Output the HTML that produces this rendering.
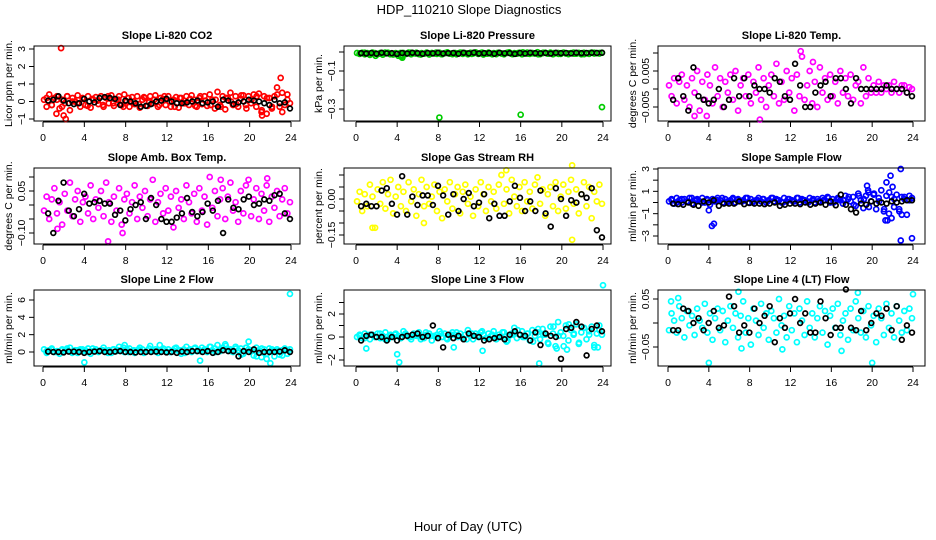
<!DOCTYPE html>
<html><head><meta charset="utf-8"><style>
html,body{margin:0;padding:0;background:#fff;}
svg{display:block;font-family:"Liberation Sans",sans-serif;}
</style></head><body>
<svg id="chart" width="936" height="540" viewBox="0 0 936 540" xmlns="http://www.w3.org/2000/svg">
<text x="469" y="14" font-size="13" text-anchor="middle">HDP_110210  Slope Diagnostics</text>
<text x="468" y="531" font-size="13" text-anchor="middle">Hour of Day (UTC)</text>
</svg>
<script>
const xTicks = [0,4,8,12,16,20,24];
const co2Vals = [0.1,-0.3,0.4,-0.2,0.2,0.3,-0.4,0.1,-0.1,0.3,-0.5,0.2,0,0.35,-0.3,0.15,-0.2,0.3,-0.35,0.1,0.25,-0.15,0.3,-0.3,0.2,-0.1,0.35,-0.25,0.1,0.3,-0.2,0.4,0,-0.3,0.25,-0.15,0.3,-0.35,0.1,0.2,-0.25,0.3,-0.1,0.35,-0.3,0.2,0.15,-0.2,0.3,-0.3,0.1,0.25,-0.35,0.2,-0.1,0.3,-0.2,0.35,0.1,-0.3,0.2,-0.15,0.3,-0.25,0.4,0.1,-0.4,0.55,-0.2,0.3,-0.45,0.2,0.5,-0.2,0.3,-0.3,0.15,0.35,-0.2,0.3,-0.1,0.4,-0.3,0.45,-0.6,0.3,-0.7,0.2,-0.4,0.3,0.8,-0.3,0.5,-0.2,0.4,-0.1];
const co2Vals2 = [0.2,-0.2,0.1,-0.3,0.3,0,-0.1,0.2,-0.25,0.15,0.05,-0.2,0.3,-0.1,0.1,-0.3,0.2,0,-0.15,0.25,-0.05,0.1,-0.2,0.3,0,-0.3,0.2,-0.1,0.15,-0.25,0.3,0.05,-0.2,0.1,-0.3,0.2,0,-0.15,0.35,-0.4,0.1,0.3,-0.5,0.2,-0.3,0.4,-0.6,0.1];
const co2Out = [[1.75,3.05],[2.2,-1.0],[23,1.35],[21.2,-0.8],[1.3,-0.7],[2.0,-0.8]];
const co2Black = [0.05,0.1,0.3,0.05,-0.1,-0.15,-0.1,0.15,0.0,-0.05,0.2,0.25,0.2,0.15,-0.2,0.05,0.0,-0.1,-0.3,-0.25,-0.15,0.0,0.05,0.15,0.0,-0.1,-0.1,-0.05,0.0,0.05,-0.1,-0.05,0.0,-0.3,0.1,0.05,-0.15,-0.05,0.0,0.1,0.05,0.0,-0.1,-0.2,0.1,-0.1,-0.05,-0.4];
const presVals = [-0.005,-0.01,-0.004,-0.012,-0.006,-0.015,-0.003,-0.008,-0.011,-0.005,-0.014,-0.007,-0.004,-0.009,-0.013,-0.006,-0.02,-0.018,-0.005,-0.01,-0.003,-0.012,-0.007,-0.004,-0.011,-0.006,-0.009,-0.003,-0.013,-0.005,-0.008,-0.01,-0.004,-0.012,-0.006,-0.002,-0.009,-0.011,-0.005,-0.007,-0.003,-0.01,-0.006,-0.012,-0.004,-0.008,-0.002,-0.01,-0.005,-0.013,-0.007,-0.003,-0.009,-0.006,-0.011,-0.004,-0.008,-0.012,-0.005,-0.002,-0.01,-0.006,-0.009,-0.004,-0.012,-0.007,-0.003,-0.01,-0.005,-0.008,-0.001,-0.011,-0.006,-0.004,-0.009,-0.003,-0.012,-0.007,-0.005,-0.01,-0.004,-0.008,-0.011,-0.006,-0.003,-0.009,-0.005,-0.012,-0.004,-0.007,-0.01,-0.003,-0.008,-0.006,-0.005,-0.004];
const presVals2 = [-0.008,-0.004,-0.011,-0.006,-0.009,-0.003,-0.012,-0.007,-0.005,-0.01,-0.004,-0.008,-0.013,-0.006,-0.009,-0.003,-0.011,-0.005,-0.008,-0.012,-0.004,-0.007,-0.01,-0.006,-0.003,-0.009,-0.012,-0.005,-0.008,-0.004,-0.011,-0.006,-0.002,-0.009,-0.007,-0.012,-0.004,-0.008,-0.006,-0.01,-0.003,-0.007,-0.009,-0.005,-0.011,-0.006,-0.004,-0.008];
const presOut = [[8.1,-0.345],[16,-0.33],[23.9,-0.29],[4.5,-0.03],[4.4,-0.025],[1.9,-0.02]];
const presBlack = [-0.006,-0.008,-0.005,-0.009,-0.004,-0.007,-0.006,-0.01,-0.005,-0.008,-0.004,-0.006,-0.009,-0.005,-0.007,-0.004,-0.008,-0.006,-0.005,-0.009,-0.004,-0.007,-0.003,-0.008,-0.006,-0.005,-0.009,-0.004,-0.007,-0.006,-0.01,-0.005,-0.008,-0.004,-0.006,-0.007,-0.005,-0.008,-0.004,-0.006,-0.005,-0.007,-0.004,-0.006,-0.005,-0.004,-0.005,-0.004];
const tempVals = [0.001,-0.002,0.003,-0.004,0.002,0.004,-0.003,0.001,-0.005,0.003,-0.001,0.005,-0.006,0.002,-0.003,0.004,0.001,-0.004,0.006,-0.002,0.003,-0.005,0.002,-0.001,0.004,-0.003,0.005,-0.006,0.001,0.003,-0.002,0.004,-0.004,0.002,-0.001,0.006,-0.003,0.003,-0.005,0.001,0.004,-0.002,0.007,-0.004,0.002,-0.003,0.005,-0.001,0.003,-0.006,0.004,-0.002,0.009,-0.003,0.001,0.005,-0.004,0.002,-0.005,0.006,-0.001,0.003,-0.003,0.004,-0.002,0.002,-0.004,0.005,-0.001,0.003,-0.002,0.004,-0.003,0.001,0.002,-0.004,0.006,-0.002,0.003,-0.001,0.001,-0.001,0.002,-0.001,0.001,0,0.001,-0.001,0.002,0,-0.001,0.001,0.001,-0.001,0.0005,0];
const tempOut = [[13,0.0105],[9,-0.0085],[2.6,-0.0075],[3.8,-0.0075],[14.2,0.0075]];
const tempBlack = [-0.003,0.003,-0.002,-0.006,0.006,-0.002,-0.003,-0.004,-0.003,0,-0.005,-0.003,0.003,-0.002,0.003,-0.002,0.001,0,0,-0.001,0.003,0.002,-0.002,-0.003,0.007,0.001,-0.005,-0.005,-0.001,0.001,0.002,-0.002,0.003,0.003,0,-0.004,0.003,0,0,0,0,0,0.001,0,0,0,-0.001,-0.002];
const ambVals = [-0.02,0.03,-0.05,0.02,0.06,-0.03,0.01,-0.07,0.04,-0.02,0.08,-0.04,0.02,0.05,-0.06,0.01,0.03,-0.03,0.07,-0.05,0.02,-0.01,0.05,-0.04,0.08,0.01,-0.06,0.03,-0.02,0.06,-0.07,0.02,0.04,-0.03,0.01,0.07,-0.05,0.03,-0.01,0.05,-0.04,0.02,0.09,-0.06,0.01,0.04,-0.03,0.06,-0.02,0.03,-0.08,0.05,-0.01,0.02,-0.05,0.07,0.01,-0.03,0.04,-0.06,0.06,-0.02,0.03,-0.07,0.1,-0.01,0.05,-0.04,0.02,0.06,-0.05,0.03,0.08,-0.02,0.01,-0.06,0.05,-0.03,0.07,0.09,-0.04,0.02,0.06,-0.05,0.04,-0.02,0.07,-0.06,0.03,-0.01,0.05,-0.04,0.02,0.06,-0.03,0.01];
const ambOut = [[6.3,-0.13],[7.7,-0.1],[17.2,0.09],[21.7,0.095],[1.4,-0.085]];
const ambBlack = [-0.03,-0.1,0.015,0.08,-0.02,-0.04,-0.015,0.04,0.005,0.01,0.015,0.005,0.005,-0.035,-0.02,-0.055,-0.015,0,0.01,-0.05,0.025,0,-0.05,-0.06,-0.06,-0.045,-0.03,0.025,-0.025,-0.04,-0.025,0.005,-0.02,0.015,-0.1,0.02,-0.01,-0.015,0.02,0.03,0.0,0.005,0.02,0.015,0.035,0.04,-0.03,-0.05];
const rhVals = [-0.01,0.03,-0.05,0.02,-0.03,0.06,0.01,-0.12,0.04,-0.02,0.07,-0.04,0.02,0.08,-0.06,0.01,0.05,-0.03,0.03,-0.05,0.07,-0.01,0.04,-0.07,0.02,0.08,-0.03,0.05,-0.02,0.01,0.06,-0.05,0.03,-0.08,0.04,-0.01,0.07,-0.04,0.02,0.05,-0.06,0.03,0.06,-0.02,0.01,-0.07,0.04,-0.03,0.07,0.02,-0.05,0.05,-0.01,0.03,-0.04,0.06,0.1,-0.02,0.04,-0.06,0.08,0.01,-0.03,0.05,-0.05,0.07,-0.01,0.03,-0.04,0.06,0.09,-0.02,0.04,-0.07,0.02,0.05,-0.03,0.07,-0.05,0.01,0.06,-0.04,0.03,0.08,-0.02,0.04,-0.06,0.02,0.07,-0.03,0.05,-0.08,0.03,-0.01,0.06,-0.02];
const rhOut = [[21,-0.17],[21,0.14],[1.6,-0.12],[6.6,-0.1],[14.6,0.12]];
const rhBlack = [-0.03,-0.02,-0.03,-0.03,0.035,0.045,-0.02,-0.065,0.095,-0.065,0.01,-0.025,0.015,0.015,-0.025,0.055,0.015,-0.065,0.02,-0.05,0,0.025,-0.03,-0.015,0.02,-0.08,-0.02,-0.07,-0.07,-0.01,0.055,0.005,-0.05,-0.01,-0.05,0.035,-0.06,-0.115,0.045,0,-0.07,-0.005,-0.015,0.02,0.005,0.045,-0.13,-0.16];
const flowVals = [0.1,0.3,-0.1,0.4,0.2,0,0.3,0.1,0.4,-0.1,0.2,0.3,0.1,0.4,0,0.2,-0.2,0.3,0.1,0.4,0.2,0,0.3,0.1,0.2,0.4,0,0.3,0.1,0.2,0.4,0,0.3,0.1,0.2,0.4,0.1,0.3,0,0.2,0.4,0.1,0.3,0.2,0,0.4,0.1,0.3,0.2,0.1,0.4,0,0.3,0.2,0.1,0.4,0.2,0,0.3,0.1,0.4,0.2,0.5,0,0.3,0.1,0.4,0.2,-0.1,0.6,0.3,0.1,0.5,-0.3,0.8,0.2,-0.5,0.6,0.9,0.1,0.7,-0.6,0.4,1.1,-0.8,0.6,-1.0,0.5,-0.4,0.7,-0.6,0.5,0.3,-1.1,0.6,0.4];
const flowVals2 = [0.2,0,0.3,0.1,0.4,0.2,0,0.3,0.1,0.2,0.4,0,0.3,0.2,0.1,0.4,0,0.2,0.3,0.1,0.4,0.2,0,0.3,0.1,0.4,0.2,0,0.3,0.1,0.2,0.4,0,0.3,0.2,0.5,-0.2,0.6,0.3,-0.4,0.8,0.1,-0.6,0.9,0.3,-0.8,0.5,0.2];
const flowOut = [[4.3,-2.1],[4.5,-1.9],[4,-0.7],[22.8,-3.4],[23.9,-3.2],[22.8,3],[19.5,1.5],[19.6,1.1],[21.4,1.8],[21.8,2.4],[21.3,-1.6],[21.5,-1.6],[21.9,-1.4],[22.0,1.4],[22.9,-1.1]];
const flowBlack = [-0.1,-0.15,-0.2,0,-0.2,-0.3,0.1,0,0.2,-0.3,-0.1,-0.1,-0.1,0.1,-0.15,-0.05,-0.1,-0.1,-0.15,-0.1,0,-0.3,-0.2,-0.1,-0.1,-0.15,0,-0.2,-0.1,0,-0.2,0.1,-0.25,0.7,-0.2,-0.6,-0.9,-0.1,-0.2,0.1,-0.1,0,-0.1,0.1,0,0.1,0.2,0.2];
const l2Vals = [0.3,-0.1,0.2,0.4,0,0.1,-0.2,0.3,0.1,0.2,0.5,0,0.2,-0.1,0.3,0.1,0.2,0.4,-0.2,0.1,0.3,0,0.2,0.5,0.1,0.2,-0.1,0.3,0.1,0.6,0.2,0,0.3,0.4,0.1,-0.1,0.2,0.5,0.3,0,0.2,0.7,0.1,0.3,-0.1,0.2,0.4,0.1,0.3,0,0.2,0.5,0.1,-0.2,0.3,0.6,0.2,0,0.4,0.1,0.2,0.5,0.3,0,0.6,0.2,0.4,0.8,0.1,0.5,0.9,0.2,0.3,0,0.6,0.2,0.4,-0.2,0.5,0.3,0.1,-0.4,0.5,0.2,-0.6,0.3,-0.8,0.4,0.1,-0.5,0.3,-0.3,0.2,0.4,-0.2,0.3];
const l2Vals2 = [0.1,0.3,0,0.2,0.4,-0.1,0.2,0.3,0,0.4,0.1,0.2,-0.1,0.3,0.2,0.5,0,0.2,0.3,-0.1,0.4,0.1,0.2,0.3,0,0.4,0.2,-0.1,0.3,0.5,0.1,0.2,0.6,0,0.3,0.7,0.1,0.4,-0.3,0.5,0.2,-0.5,0.4,-0.2,0.3,0.1,-0.4,0.2];
const l2Out = [[4,-1.2],[23.9,6.7],[19.9,1.2],[22,-1.3],[15.2,-1],[7.9,0.8],[11.3,0.8]];
const l2Black = [0.05,0,0,-0.05,0.05,0.05,0,-0.1,0,0.05,0.1,0,0,0.05,0.1,0,0,-0.05,0,0,0,0.05,0,-0.05,0,-0.1,0.05,0,0.1,0.1,0,0.1,-0.1,0,0.2,0.1,0.1,-0.5,0.1,0,0.3,-0.1,0,0,0,0.05,0.2,0];
const l3Vals = [0,0.2,-0.1,0.3,0.1,-0.2,0.2,0,0.3,-0.1,0.1,0.4,-0.2,0.2,0,0.3,0.1,-0.1,0.5,0.2,0,-0.2,0.3,0.1,0.4,0,-0.1,0.2,0.3,-0.3,0.1,0.2,0.5,0,0.3,-0.2,0.1,0.4,0.2,0,0.3,-0.1,0.2,0.6,0.1,-0.2,0.3,0,0.4,0.2,-0.1,0.3,0.1,0.5,-0.2,0.2,0,0.4,-0.4,0.1,0.3,0.8,-0.1,0.2,0.5,0,0.3,-0.3,0.6,0.1,0.4,-0.2,0.7,0.2,-0.5,0.9,0.3,-0.8,1.3,0.4,0.1,1.0,-0.3,0.6,0.2,1.1,-0.6,0.4,0.8,-0.2,0.5,0.9,-0.7,0.3,1.0,0.2];
const l3Vals2 = [0.1,-0.1,0.2,0,0.3,-0.2,0.1,0.2,-0.1,0.3,0,0.2,-0.2,0.4,0.1,0,0.3,-0.1,0.2,0.4,0,-0.2,0.3,0.1,0.5,-0.1,0.2,0,0.4,-0.3,0.2,0.6,0,0.3,-0.4,0.7,0.2,-0.6,0.9,0.1,-0.8,1.1,0.3,-0.5,0.8,0.2,-0.9,0.6];
const l3Out = [[24,4.5],[17.8,-2.3],[4.2,-2.2],[4.0,-1.5],[1,-1],[12.3,-1.2],[9.5,-0.9],[20.5,-1.1],[19.5,-1.0],[23.5,-0.9]];
const l3Black = [-0.3,0.1,0.2,0,0,-0.3,0,-0.3,0,0.1,0.2,0.3,0,0.1,1.0,-0.1,-0.9,0.2,-0.1,0.1,-0.2,0.3,0.1,0,-0.3,-0.2,-0.1,0,-0.2,0.2,0.5,0.2,0.1,-0.3,0.4,-0.7,0.3,0.1,0,-1.9,0.7,0.8,1.3,0.9,-1.6,0.7,1.0,0.5];
const l4Vals = [-0.015,0.02,0.005,-0.02,0.035,0.01,-0.03,0.025,-0.005,0.015,-0.025,0.03,0.005,-0.01,0.04,-0.02,0.02,-0.035,0.01,0.03,-0.015,0.025,-0.04,0.005,0.035,-0.01,0.02,-0.03,0.015,0.045,-0.02,0.01,-0.045,0.03,0.005,-0.025,0.04,-0.01,0.02,-0.035,0.025,0.01,-0.02,0.05,-0.005,0.015,-0.03,0.035,-0.015,0.02,-0.04,0.03,0.005,-0.025,0.045,-0.01,0.02,-0.03,0.01,0.035,-0.02,0.025,-0.045,0.015,0.03,-0.01,0.04,-0.025,0.005,0.02,-0.035,0.03,-0.015,0.045,0.01,-0.02,0.025,-0.03,0.035,-0.005,0.015,-0.04,0.03,0.01,-0.025,0.04,-0.01,0.02,-0.03,0.035,0.005,-0.02,0.025,-0.015,0.03,0.01];
const l4Out = [[4,-0.083],[20,-0.083],[18.6,0.063],[24,0.06],[0.3,0.045],[1.0,0.052],[6.9,0.065],[11.2,-0.055],[17.0,-0.058],[7.2,-0.053]];
const l4Black = [-0.015,-0.015,0.03,0.025,0,0.01,-0.015,0,0.025,-0.01,-0.005,0.055,0.035,-0.02,-0.005,-0.02,0.03,0,0.015,0.035,-0.04,0.01,-0.01,0.02,0.05,0,0.02,-0.02,-0.02,0.045,0.01,-0.025,-0.01,-0.01,0.07,-0.01,-0.015,0.025,-0.015,0,0.02,0.015,0.03,-0.015,0.035,-0.035,-0.005,-0.02];

const NS = 'http://www.w3.org/2000/svg';
const svg = document.getElementById('chart');
const cols = [{L:34,R:300,x0:43,x24:291},{L:344,R:611,x0:356,x24:603},{L:658,R:925,x0:668,x24:913}];
const rows = [{T:46,B:121},{T:168,B:244},{T:290,B:366}];
const panels = [
 {key:'co2',title:'Slope Li-820 CO2',yl:'Licor ppm per min.',col:'#ff0000',v:co2Vals,v2:co2Vals2,o:co2Out,k:co2Black,v0:3,p0:49,v1:-1,p1:119,ticks:[-1,0,1,2,3],labels:['-1','0','1','2','3']},
 {key:'pressure',title:'Slope Li-820 Pressure',yl:'kPa per min.',col:'#00cc00',v:presVals,v2:presVals2,o:presOut,k:presBlack,v0:-0.1,p0:71,v1:-0.3,p1:109,ticks:[0,-0.1,-0.2,-0.3],labels:['','-0.1','','-0.3']},
 {key:'temp',title:'Slope Li-820 Temp.',yl:'degrees C per min.',col:'#ff00ff',v:tempVals,v2:null,o:tempOut,k:tempBlack,v0:0.005,p0:71,v1:-0.005,p1:107,ticks:[0.01,0.005,0,-0.005],labels:['','0.005','','-0.005']},
 {key:'amb',title:'Slope Amb. Box Temp.',yl:'degrees C per min.',col:'#ff00ff',v:ambVals,v2:null,o:ambOut,k:ambBlack,v0:0.05,p0:191,v1:-0.1,p1:233,ticks:[0.1,0.05,0,-0.05,-0.1],labels:['','0.05','','','-0.10']},
 {key:'rh',title:'Slope Gas Stream RH',yl:'percent per min.',col:'#ffff00',v:rhVals,v2:null,o:rhOut,k:rhBlack,v0:0,p0:199,v1:-0.15,p1:235,ticks:[0.1,0.05,0,-0.05,-0.1,-0.15],labels:['','','0.00','','','-0.15']},
 {key:'sample-flow',title:'Slope Sample Flow',yl:'ml/min per min.',col:'#0000ff',v:flowVals,v2:flowVals2,o:flowOut,k:flowBlack,v0:3,p0:169,v1:-3,p1:236,ticks:[3,2,1,0,-1,-2,-3],labels:['3','','1','','-1','','-3']},
 {key:'line2',title:'Slope Line 2 Flow',yl:'ml/min per min.',col:'#00ffff',v:l2Vals,v2:l2Vals2,o:l2Out,k:l2Black,v0:6,p0:300,v1:0,p1:352,ticks:[0,2,4,6],labels:['0','2','4','6']},
 {key:'line3',title:'Slope Line 3 Flow',yl:'ml/min per min.',col:'#00ffff',v:l3Vals,v2:l3Vals2,o:l3Out,k:l3Black,v0:2,p0:314,v1:-2,p1:360,ticks:[-2,-1,0,1,2,3],labels:['-2','','0','','2','']},
 {key:'line4',title:'Slope Line 4 (LT) Flow',yl:'ml/min per min.',col:'#00ffff',v:l4Vals,v2:null,o:l4Out,k:l4Black,v0:0.05,p0:299,v1:-0.05,p1:347,ticks:[0.05,0,-0.05],labels:['0.05','','-0.05']}
];
function mk(tag, attrs, parent){const e=document.createElementNS(NS,tag);for(const a in attrs)e.setAttribute(a,attrs[a]);(parent||svg).appendChild(e);return e;}
panels.forEach((p,i)=>{
  const c=cols[i%3], r=rows[Math.floor(i/3)];
  const xs=h=>c.x0+(c.x24-c.x0)*h/24;
  const ys=v=>p.p0+(v-p.v0)*(p.p1-p.p0)/(p.v1-p.v0);
  const g=mk('g',{});
  
  
  const t=mk('text',{x:(c.L+c.R)/2,y:r.T-7,'font-size':11,'font-weight':'bold','text-anchor':'middle'},g);
  t.textContent=p.title;
  
  
  const yl=mk('text',{x:0,y:0,'font-size':10.5,'text-anchor':'middle',transform:`translate(${c.L-22},${(r.T+r.B)/2}) rotate(-90)`},g);
  yl.textContent=p.yl;
  
  
  const yt=p.ticks.map(ys);
  const ya=mk('line',{x1:c.L,x2:c.L,y1:Math.min(...yt),y2:Math.max(...yt),stroke:'#000'},g);
  
  
  p.ticks.forEach((tv,j)=>{
    const y=ys(tv);
    const tk=mk('line',{x1:c.L-5,x2:c.L,y1:y,y2:y,stroke:'#000'},g);
    
    
    if(p.labels[j]){
      const tl=mk('text',{x:0,y:0,'font-size':10.5,'text-anchor':'middle',transform:`translate(${c.L-9},${y}) rotate(-90)`},g);
      tl.textContent=p.labels[j].replace('-','\u2212');
      
      
    }
  });
  const xa=mk('line',{x1:xs(0),x2:xs(24),y1:r.B+1,y2:r.B+1,stroke:'#000'},g);
  
  
  xTicks.forEach(h=>{
    const x=xs(h);
    const tk=mk('line',{x1:x,x2:x,y1:r.B+1,y2:r.B+6,stroke:'#000'},g);
    
    
    const tl=mk('text',{x:x,y:r.B+20,'font-size':10.5,'text-anchor':'middle'},g);
    tl.textContent=String(h);
    
    
  });
  const n=p.v.length;
  p.v.forEach((v,j)=>{
    const h=0.1+j*23.8/(n-1);
    const pt=mk('circle',{cx:xs(h),cy:ys(v),r:2.5,fill:'none',stroke:p.col,'stroke-width':1.7},g);
    
    
  });
  if(p.v2){
    const n2=p.v2.length;
    p.v2.forEach((v,j)=>{
      const h=0.35+j*23.3/(n2-1);
      const pt=mk('circle',{cx:xs(h),cy:ys(v),r:2.5,fill:'none',stroke:p.col,'stroke-width':1.7},g);
      
      
    });
  }
  p.o.forEach(o=>{
    const pt=mk('circle',{cx:xs(o[0]),cy:ys(o[1]),r:2.5,fill:'none',stroke:p.col,'stroke-width':1.7},g);
    
    
  });
  const m=p.k.length;
  p.k.forEach((v,j)=>{
    const h=0.5+j*23.4/(m-1);
    const pt=mk('circle',{cx:xs(h),cy:ys(v),r:2.4,fill:'none',stroke:'#000','stroke-width':1.7},g);
    
    
  });
  const box=mk('rect',{x:c.L,y:r.T,width:c.R-c.L,height:r.B-r.T,fill:'none',stroke:'#000','stroke-width':1},g);
  
  
});
</script>
</body></html>
